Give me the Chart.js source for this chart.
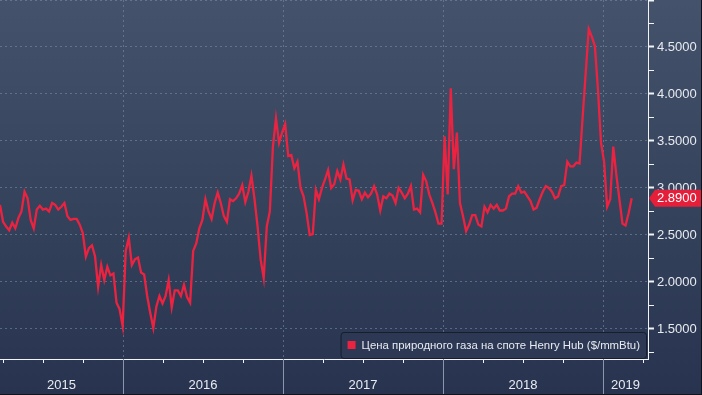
<!DOCTYPE html>
<html>
<head>
<meta charset="utf-8">
<script src="https://cdn.jsdelivr.net/npm/chart.js@4.4.1/dist/chart.umd.min.js"></script>
<style>
  html, body { margin: 0; padding: 0; background: #2b3853; }
  #wrap { width: 702px; height: 395px; }
</style>
</head>
<body>
<div id="wrap"><canvas id="chart" width="702" height="395"></canvas></div>
<script>
// weekly Henry Hub spot, first week ~ 26 Mar 2015 (as fractional year)
var seriesLabel = 'Цена природного газа на споте Henry Hub ($/mmBtu)';
var firstWeek = 2015.231;
var prices = [
  2.82, 2.64, 2.59, 2.55, 2.63, 2.57, 2.68, 2.75, 2.96, 2.89,
  2.66, 2.57, 2.77, 2.81, 2.77, 2.78, 2.75, 2.84, 2.82, 2.77,
  2.80, 2.84, 2.70, 2.66, 2.67, 2.67, 2.61, 2.52, 2.27, 2.36,
  2.39, 2.27, 1.95, 2.18, 2.02, 2.16, 2.07, 2.09, 1.78, 1.71,
  1.53, 2.33, 2.47, 2.18, 2.24, 2.26, 2.10, 2.08, 1.85, 1.67,
  1.51, 1.74, 1.85, 1.77, 1.85, 2.02, 1.73, 1.91, 1.91, 1.85,
  1.97, 1.84, 1.78, 2.33, 2.41, 2.57, 2.66, 2.88, 2.75, 2.67,
  2.84, 2.95, 2.84, 2.70, 2.64, 2.88, 2.86, 2.89, 2.94, 3.03,
  2.85, 2.96, 3.13, 2.88, 2.59, 2.24, 2.04, 2.59, 2.75, 3.44,
  3.74, 3.48, 3.59, 3.68, 3.34, 3.35, 3.21, 3.28, 3.00, 2.91,
  2.73, 2.50, 2.51, 2.98, 2.88, 3.00, 3.09, 3.19, 3.00, 3.04,
  3.18, 3.09, 3.25, 3.10, 3.09, 2.87, 2.98, 2.97, 2.88, 2.95,
  2.90, 2.94, 3.02, 2.93, 2.76, 2.91, 2.89, 2.94, 2.92, 2.84,
  3.00, 2.95, 2.89, 2.94, 3.02, 2.77, 2.78, 2.74, 3.14, 3.07,
  2.93, 2.84, 2.74, 2.62, 2.62, 3.55, 2.93, 4.06, 3.20, 3.59,
  2.84, 2.70, 2.54, 2.61, 2.71, 2.71, 2.61, 2.59, 2.80, 2.74,
  2.82, 2.78, 2.82, 2.76, 2.76, 2.78, 2.91, 2.94, 2.94, 3.02,
  2.95, 2.96, 2.91, 2.86, 2.77, 2.79, 2.88, 2.96, 3.02, 3.00,
  2.96, 2.89, 2.91, 3.02, 3.03, 3.28, 3.23, 3.23, 3.27, 3.26,
  3.75, 4.22, 4.69, 4.61, 4.51, 4.05, 3.48, 3.28, 2.80, 2.88,
  3.44, 3.14, 2.88, 2.62, 2.60, 2.73, 2.89
];
var years = [2015, 2016, 2017, 2018, 2019];
var yTicks = [1.25, 1.5, 1.75, 2, 2.25, 2.5, 2.75, 3, 3.25, 3.5, 3.75, 4, 4.25, 4.5, 4.75, 5];
var xMin = 2015.231, xMax = 2019.281;
var yMin = 1.18, yMax = 5.0;

var lineColor = '#ec2340';
var gridColor = 'rgba(125,145,170,0.55)';
var textColor = '#e8ebf0';
var fontFamily = '"Liberation Sans", Arial, sans-serif';

var points = prices.map(function (v, i) {
    return { x: firstWeek + i * 7 / 365.25, y: v };
});

var quarterTicks = [];
for (var q = Math.ceil(xMin * 4) / 4; q <= xMax; q += 0.25) quarterTicks.push(q);

// year labels sit in the middle of the visible part of each year
var yearMids = years.map(function (y) {
    return (Math.max(y, xMin) + Math.min(y + 1, xMax)) / 2;
});

var bgPlugin = {
    id: 'bg',
    beforeDraw: function (chart) {
        var c = chart.ctx;
        var g = c.createLinearGradient(0, 0, 0, chart.height);
        g.addColorStop(0, '#44526b');
        g.addColorStop(1, '#28344f');
        c.save();
        c.fillStyle = g;
        c.fillRect(0, 0, chart.width, chart.height);
        c.restore();
    }
};

var extrasPlugin = {
    id: 'extras',
    afterDraw: function (chart) {
        var c = chart.ctx, area = chart.chartArea;
        var xs = chart.scales.x, ys = chart.scales.y;
        c.save();

        // year separators in the date band
        c.strokeStyle = '#8b96a8';
        c.lineWidth = 1;
        years.forEach(function (y) {
            if (y <= xMin || y >= xMax) return;
            var px = Math.round(xs.getPixelForValue(y)) + 0.5;
            c.beginPath();
            c.moveTo(px, area.bottom);
            c.lineTo(px, chart.height);
            c.stroke();
        });

        // legend box
        c.font = '11.4px ' + fontFamily;
        var tw = c.measureText(seriesLabel).width;
        var bw = 7 + 8 + 6 + tw + 6, bh = 26;
        var bx = area.right - 2 - bw, by = area.bottom - 1 - bh;
        c.beginPath();
        c.roundRect(bx + 0.5, by + 0.5, bw, bh, 3);
        c.fillStyle = 'rgba(44,57,84,0.9)';
        c.fill();
        c.strokeStyle = '#161d2b';
        c.stroke();
        c.fillStyle = lineColor;
        c.fillRect(bx + 7, by + 9, 8, 8);
        c.fillStyle = textColor;
        c.textBaseline = 'middle';
        c.textAlign = 'left';
        c.fillText(seriesLabel, bx + 21, by + bh / 2 + 0.5);

        // last value tag
        var last = prices[prices.length - 1];
        var ty = ys.getPixelForValue(last);
        var tx = ys.left + 1;
        c.beginPath();
        c.moveTo(tx, ty);
        c.lineTo(tx + 6, ty - 8.5);
        c.lineTo(chart.width, ty - 8.5);
        c.lineTo(chart.width, ty + 8.5);
        c.lineTo(tx + 6, ty + 8.5);
        c.closePath();
        c.fillStyle = '#e51f3a';
        c.fill();
        c.fillStyle = '#ffffff';
        c.font = '13px ' + fontFamily;
        c.fillText(last.toFixed(4), tx + 8, ty + 0.5);

        // dark frame on right and bottom edges
        c.fillStyle = '#10141c';
        c.fillRect(chart.width - 1, 0, 1, chart.height);
        c.fillRect(0, chart.height - 1, chart.width, 1);
        c.restore();
    }
};

function noPad(s) {
    s.paddingTop = 0; s.paddingBottom = 0; s.paddingLeft = 0; s.paddingRight = 0;
}

new Chart(document.getElementById('chart'), {
    type: 'line',
    data: {
        datasets: [{
            label: seriesLabel,
            data: points,
            xAxisID: 'x',
            yAxisID: 'y',
            borderColor: lineColor,
            borderWidth: 2.3,
            pointRadius: 0,
            tension: 0,
            fill: false
        }]
    },
    options: {
        responsive: false,
        animation: false,
        devicePixelRatio: 1,
        layout: { padding: 0 },
        plugins: {
            legend: { display: false },
            tooltip: { enabled: false }
        },
        scales: {
            x: {
                type: 'linear',
                position: 'bottom',
                min: xMin,
                max: xMax,
                afterBuildTicks: function (s) {
                    s.ticks = quarterTicks.map(function (v) { return { value: v }; });
                },
                afterFit: function (s) { s.height = 4; noPad(s); },
                ticks: { display: false },
                grid: {
                    color: function (ctx) {
                        return Number.isInteger(ctx.tick.value) ? gridColor : 'rgba(0,0,0,0)';
                    },
                    tickColor: function (ctx) {
                        return Number.isInteger(ctx.tick.value) ? 'rgba(0,0,0,0)' : '#f2f4f7';
                    },
                    tickLength: 4,
                    lineWidth: 1
                },
                border: { color: '#f2f4f7', width: 1, dash: [2, 3] }
            },
            years: {
                type: 'linear',
                position: 'bottom',
                min: xMin,
                max: xMax,
                afterBuildTicks: function (s) {
                    s.ticks = yearMids.map(function (v) { return { value: v }; });
                },
                afterFit: function (s) { s.height = 32; noPad(s); },
                ticks: {
                    color: textColor,
                    font: { family: fontFamily, size: 13 },
                    padding: 15,
                    maxRotation: 0,
                    autoSkip: false,
                    callback: function (v, i) { return String(years[i]); }
                },
                grid: { display: false, drawTicks: false },
                border: { display: false }
            },
            y: {
                type: 'linear',
                position: 'right',
                min: yMin,
                max: yMax,
                afterBuildTicks: function (s) {
                    s.ticks = yTicks.map(function (v) { return { value: v }; });
                },
                afterFit: function (s) { s.width = 54; noPad(s); },
                ticks: {
                    color: textColor,
                    font: { family: fontFamily, size: 13 },
                    padding: 3,
                    autoSkip: false,
                    callback: function (v) {
                        return (v % 0.5 === 0 && v < yMax) ? v.toFixed(4) : '';
                    }
                },
                grid: {
                    color: function (ctx) {
                        return ctx.tick.value % 0.5 === 0 ? gridColor : 'rgba(0,0,0,0)';
                    },
                    tickColor: '#f2f4f7',
                    tickWidth: function (ctx) {
                        return ctx.tick.value % 0.5 === 0 ? 2 : 1;
                    },
                    tickLength: 6
                },
                border: { color: '#f2f4f7', width: 1, dash: [2, 3] }
            }
        }
    },
    plugins: [bgPlugin, extrasPlugin]
});
</script>
</body>
</html>
